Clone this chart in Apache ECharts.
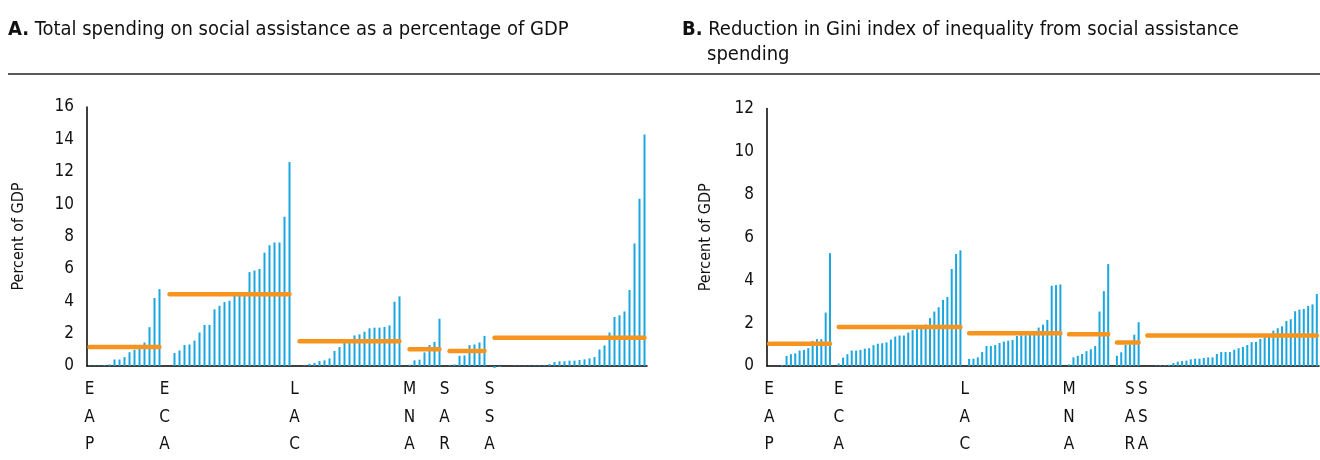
<!DOCTYPE html>
<html><head><meta charset="utf-8">
<script src="https://cdn.jsdelivr.net/npm/echarts@6/dist/echarts.min.js"></script>
<style>html,body{margin:0;padding:0;background:#fff}#c{width:1320px;height:460px}</style>
</head><body><div id="c"></div>
<script>
// ---- data ----
const regions = ['EAP', 'ECA', 'LAC', 'MNA', 'SAR', 'SSA'];

// Panel A: social assistance spending, % of GDP (countries sorted within region)
const eapA = [0.02, 0.02, 0.02, 0.05, 0.1, 0.4, 0.4, 0.55, 0.85, 1.0, 1.3, 1.45, 2.4, 4.2, 4.75];
const ecaA = [0, 0.8, 0.96, 1.3, 1.33, 1.57, 2.07, 2.54, 2.54, 3.5, 3.72, 3.95, 4.03, 4.33, 4.38, 4.4, 5.8, 5.9, 6.0, 7.0, 7.46, 7.63, 7.63, 9.22, 12.6];
const lacA = [0, 0.04, 0.14, 0.19, 0.31, 0.35, 0.47, 0.93, 1.17, 1.46, 1.46, 1.89, 1.95, 2.12, 2.33, 2.37, 2.37, 2.41, 2.51, 3.97, 4.3];
const mnaA = [0.08, 0.35, 0.39, 0.84, 1.29, 1.49, 2.92];
const sarA = [0.04, 0.1, 0.63, 0.65, 1.29, 1.33, 1.45, 1.86];
const ssaA = [-0.12, -0.05, 0, 0, 0.02, 0.02, 0.02, 0.02, 0.03, 0.03, 0.04, 0.12, 0.25, 0.29, 0.29, 0.33, 0.33, 0.37, 0.41, 0.47, 0.55, 1.02, 1.27, 2.07, 3.03, 3.13, 3.37, 4.7, 7.57, 10.33, 14.3];
const avgA = [1.17, 4.44, 1.53, 1.04, 0.92, 1.74];

// Panel B: reduction in Gini index from social assistance
const eapB = [0, 0, 0, 0.05, 0.47, 0.55, 0.59, 0.72, 0.75, 0.83, 1.17, 1.25, 1.25, 2.49, 5.26];
const ecaB = [0.12, 0.39, 0.55, 0.72, 0.72, 0.75, 0.81, 0.83, 0.97, 1.04, 1.06, 1.1, 1.23, 1.37, 1.42, 1.42, 1.56, 1.67, 1.74, 1.79, 1.93, 2.23, 2.54, 2.74, 3.08, 3.22, 4.52, 5.22, 5.39];
const lacB = [0.33, 0.34, 0.40, 0.65, 0.93, 0.93, 0.98, 1.07, 1.14, 1.18, 1.21, 1.40, 1.43, 1.43, 1.45, 1.47, 1.79, 1.92, 2.15, 3.74, 3.77, 3.80];
const mnaB = [0.08, 0.40, 0.47, 0.56, 0.69, 0.78, 0.93, 2.54, 3.49, 4.75];
const sarB = [0.48, 0.64, 0.98, 1.0, 1.46, 2.04];
const ssaB = [0, 0, 0.02, 0.03, 0.03, 0.06, 0.14, 0.2, 0.23, 0.25, 0.31, 0.34, 0.34, 0.37, 0.4, 0.4, 0.56, 0.65, 0.65, 0.65, 0.76, 0.83, 0.89, 0.98, 1.11, 1.12, 1.26, 1.34, 1.44, 1.65, 1.76, 1.85, 2.1, 2.18, 2.55, 2.63, 2.66, 2.8, 2.87, 3.36];
const avgB = [1.04, 1.82, 1.53, 1.48, 1.09, 1.42];

// where each region's tick label sits, relative to the region's first country
const labelOffsetA = [0, -1, -1, 0, -1, -1];
const labelOffsetB = [0, 0, -1, 0, 3, -1];

const yMaxA = 16, yMaxB = 12, yStep = 2;
const titleA = 'Total spending on social assistance as a percentage of GDP';
const titleB1 = 'Reduction in Gini index of inequality from social assistance';
const titleB2 = 'spending';
const yName = 'Percent of GDP';

// ---- build ----
function build(groups, avgs, offsets) {
  const cats = [], bars = [], line = [], labels = {};
  groups.forEach((g, i) => {
    if (i > 0) { cats.push('gap' + i); bars.push(null); line.push(null); }
    const start = cats.length;
    g.forEach((v, j) => { cats.push(regions[i] + '-' + j); bars.push(v); line.push(avgs[i]); });
    labels[start + offsets[i]] = regions[i];
  });
  return { cats, bars, line, labels };
}
const A = build([eapA, ecaA, lacA, mnaA, sarA, ssaA], avgA, labelOffsetA);
const B = build([eapB, ecaB, lacB, mnaB, sarB, ssaB], avgB, labelOffsetB);

const FONT = '"DejaVu Sans Condensed", "DejaVu Sans", sans-serif';
const BLUE = '#1ba6e0', ORANGE = '#f7941d', TXT = '#111';
const TFS = 20;

function xAxis(gi, d) {
  return {
    type: 'category', gridIndex: gi, data: d.cats,
    axisLine: { lineStyle: { color: '#000', width: 1.5 } },
    axisTick: { show: false },
    axisLabel: {
      interval: 0, margin: 10, color: TXT, fontFamily: FONT, fontSize: 17, lineHeight: 27.5,
      formatter: (v, idx) => d.labels[idx] ? d.labels[idx].split('').join('\n') : ''
    }
  };
}
function yAxis(gi, max, gap) {
  return {
    type: 'value', gridIndex: gi, min: 0, max: max, interval: yStep,
    name: yName, nameLocation: 'middle', nameGap: gap,
    nameTextStyle: { color: TXT, fontFamily: FONT, fontSize: 16 },
    axisLine: { show: true, lineStyle: { color: '#000', width: 1.5 } },
    axisTick: { show: false }, splitLine: { show: false },
    axisLabel: { color: TXT, fontFamily: FONT, fontSize: 17, margin: 13 }
  };
}
function barSeries(gi, d) {
  return {
    type: 'bar', xAxisIndex: gi, yAxisIndex: gi, data: d.bars, barWidth: 2,
    itemStyle: { color: BLUE }, clip: false, silent: true, animation: false
  };
}
function lineSeries(gi, d) {
  return {
    type: 'line', xAxisIndex: gi, yAxisIndex: gi, data: d.line, showSymbol: false, symbol: 'none',
    connectNulls: false, z: 5, silent: true, animation: false,
    lineStyle: { color: ORANGE, width: 4.5, cap: 'round' }
  };
}
function titleStyle() {
  return { color: TXT, fontFamily: FONT, fontSize: TFS, fontWeight: 'normal',
    rich: { b: { fontWeight: 'bold', fontFamily: FONT, fontSize: TFS, color: TXT } } };
}

const chart = echarts.init(document.getElementById('c'), null, { renderer: 'canvas' });
chart.setOption({
  animation: false,
  backgroundColor: '#fff',
  title: [
    { text: '{b|A.} ' + titleA, left: 8, top: 20, padding: 0, textStyle: titleStyle() },
    { text: '{b|B.} ' + titleB1, left: 682, top: 20, padding: 0, textStyle: titleStyle() },
    { text: titleB2, left: 707, top: 45, padding: 0, textStyle: titleStyle() }
  ],
  graphic: [{ type: 'line', shape: { x1: 8, y1: 74, x2: 1320, y2: 74 }, style: { stroke: '#58595b', lineWidth: 2 } }],
  grid: [
    { left: 87, right: 673, top: 107, bottom: 94 },
    { left: 767, right: 1, top: 108.5, bottom: 94 }
  ],
  xAxis: [xAxis(0, A), xAxis(1, B)],
  yAxis: [yAxis(0, yMaxA, 60), yAxis(1, yMaxB, 53)],
  series: [barSeries(0, A), lineSeries(0, A), barSeries(1, B), lineSeries(1, B)]
});
</script></body></html>
